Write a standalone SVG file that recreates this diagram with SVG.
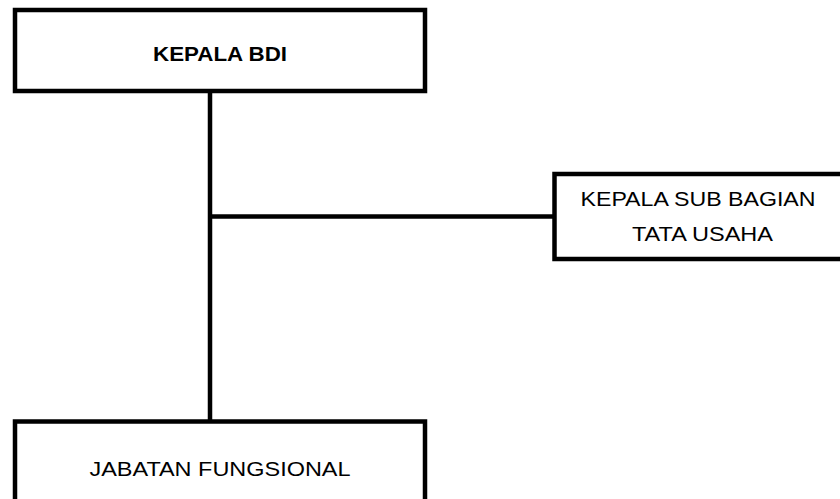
<svg xmlns="http://www.w3.org/2000/svg" width="840" height="499" viewBox="0 0 840 499">
<style>
.box{fill:#fff;stroke:#000;stroke-width:4.5}
.t{font-family:"Liberation Sans",Arial,sans-serif;font-size:21px;fill:#000;text-anchor:middle}
.b{font-weight:bold}
.c{stroke:#000;stroke-width:4.5;fill:none}
</style>
<rect width="840" height="499" fill="#fff"/>
<g id="connectors">
<line class="c" x1="210" y1="91" x2="210" y2="421"/>
<line class="c" x1="210" y1="216.5" x2="555" y2="216.5"/>
</g>
<g id="kepala-bdi">
<rect class="box" x="15" y="10" width="410" height="81"/>
<text class="t b" x="220" y="60.5" textLength="134" lengthAdjust="spacingAndGlyphs">KEPALA BDI</text>
</g>
<g id="kasubag-tu">
<rect class="box" x="554.5" y="174" width="300" height="85"/>
<text class="t" x="698" y="205.5" textLength="235" lengthAdjust="spacingAndGlyphs">KEPALA SUB BAGIAN</text>
<text class="t" x="702.5" y="240.5" textLength="141" lengthAdjust="spacingAndGlyphs">TATA USAHA</text>
</g>
<g id="jabatan-fungsional">
<rect class="box" x="15" y="421.5" width="410" height="100"/>
<text class="t" x="220" y="475.5" textLength="261" lengthAdjust="spacingAndGlyphs">JABATAN FUNGSIONAL</text>
</g>
</svg>
